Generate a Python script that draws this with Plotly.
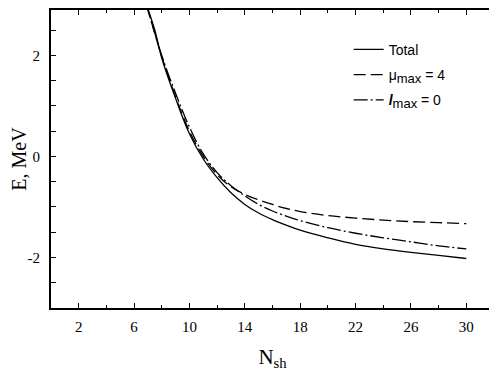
import plotly.graph_objects as go

# shell number N_sh and energies E (MeV)
n_total = [6.9, 7.5, 8, 9, 10, 11, 12, 13, 14, 15, 16, 17, 18, 20, 22, 24, 26, 28, 30]
e_total = [3.0, 2.5, 1.95, 1.15, 0.45, -0.05, -0.42, -0.72, -0.95, -1.12, -1.25, -1.36, -1.46,
           -1.61, -1.74, -1.83, -1.90, -1.96, -2.02]

n_mu = [6.9, 8, 9, 10, 11, 12, 13, 14, 15, 16, 17, 18, 20, 22, 24, 26, 28, 30]
e_mu = [3.0, 1.98, 1.18, 0.5, 0.0, -0.36, -0.6, -0.75, -0.86, -0.95, -1.03, -1.09,
        -1.17, -1.22, -1.26, -1.29, -1.31, -1.33]

n_l = [6.9, 8, 9, 10, 11, 12, 13, 14, 15, 16, 17, 18, 20, 22, 24, 26, 28, 30]
e_l = [3.0, 2.0, 1.25, 0.58, 0.05, -0.32, -0.58, -0.78, -0.95, -1.08, -1.18, -1.27,
       -1.41, -1.52, -1.61, -1.69, -1.77, -1.83]

x_ticks = [2, 6, 10, 14, 18, 22, 26, 30]
y_ticks = [-2, 0, 2]

serif = "Liberation Serif"
sans = "Liberation Sans"

fig = go.Figure()
fig.add_trace(go.Scatter(x=n_total, y=e_total, mode="lines", name="Total", legendgroup="a",
                         line=dict(color="black", width=1.3, shape="spline")))
fig.add_trace(go.Scatter(x=n_mu, y=e_mu, mode="lines",
                         name="\u03bc<sub><span style='font-size:13px'>max</span></sub> = 4",
                         legendgroup="b",
                         line=dict(color="black", width=1.3, shape="spline", dash="12px,5px")))
fig.add_trace(go.Scatter(x=n_l, y=e_l, mode="lines",
                         name="<b><i>l</i></b><sub><span style='font-size:13px'>max</span></sub> = 0",
                         legendgroup="c",
                         line=dict(color="black", width=1.3, shape="spline", dash="14px,3px,2px,3px")))

fig.update_xaxes(range=[0, 32], tickvals=x_ticks, ticktext=[str(v) for v in x_ticks],
                 ticks="inside", ticklen=5, tickwidth=1, tickcolor="black",
                 minor=dict(dtick=2, tick0=0, ticks="inside", ticklen=3, tickcolor="black"),
                 showline=True, linewidth=2, linecolor="black", mirror="ticks",
                 showgrid=False, zeroline=False, ticklabelstandoff=4,
                 tickfont=dict(family=serif, size=15, color="black"),
                 title=dict(text="N<sub>sh</sub>", font=dict(family=serif, size=21, color="black"),
                            standoff=18))
# top of the range is cut a little: the page body adds an 8px offset
fig.update_yaxes(range=[-3, 2.9], tickvals=y_ticks, ticktext=[str(v) for v in y_ticks],
                 ticks="inside", ticklen=5, tickwidth=1, tickcolor="black",
                 minor=dict(dtick=0.5, tick0=0, ticks="inside", ticklen=5, tickcolor="black"),
                 showline=True, linewidth=2, linecolor="black", mirror="ticks",
                 showgrid=False, zeroline=False, ticklabelstandoff=6,
                 tickfont=dict(family=serif, size=15, color="black"))

fig.add_annotation(text="E, MeV", xref="paper", yref="paper", x=-0.073, y=0.5,
                   xanchor="center", yanchor="middle", textangle=-90, showarrow=False,
                   font=dict(family=serif, size=20, color="black"))

fig.update_layout(width=489, height=363,
                  margin=dict(l=43, r=3, t=0, b=63),
                  plot_bgcolor="white", paper_bgcolor="white",
                  legend=dict(x=0.672, y=0.92, xanchor="left", yanchor="top",
                              bgcolor="rgba(0,0,0,0)", tracegroupgap=4,
                              font=dict(family=sans, size=14, color="black")),
                  showlegend=True)

fig.write_html("out.html")
